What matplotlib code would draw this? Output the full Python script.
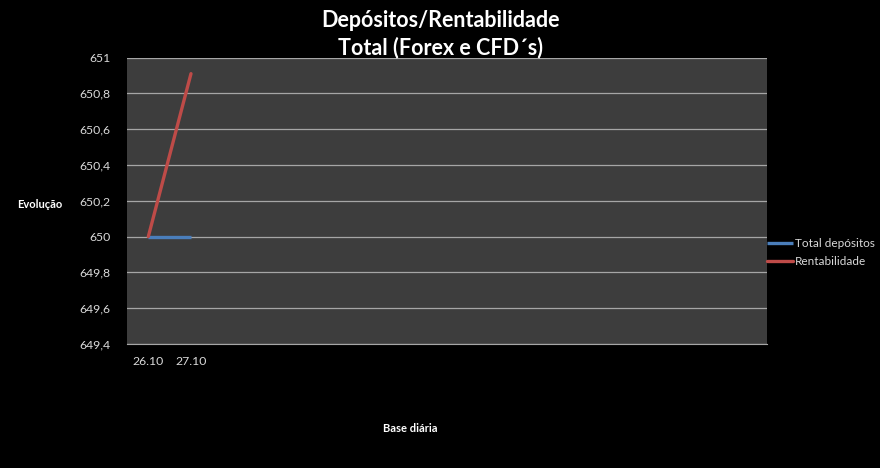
import matplotlib.pyplot as plt
from matplotlib.ticker import FuncFormatter, MultipleLocator

# chart data
categories = ['26.10', '27.10'] + [''] * 13
total_depositos = [650, 650]
rentabilidade = [650, 650.91]

plt.rcParams['font.family'] = ['Lato', 'DejaVu Sans']

fig = plt.figure(figsize=(8.8, 4.68), dpi=100, facecolor='black')
ax = fig.add_axes([0.1443, 0.265, 0.7273, 0.612])
ax.set_facecolor('#3d3d3d')

x = list(range(len(categories)))
ax.plot(x[:len(total_depositos)], total_depositos, color='#4a7ebb', lw=2.4,
        label='Total depósitos', solid_capstyle='butt')
ax.plot(x[:len(rentabilidade)], rentabilidade, color='#be4b48', lw=2.4,
        label='Rentabilidade', solid_capstyle='round')

ax.set_xlim(-0.5, len(categories) - 0.5)
ax.set_ylim(649.4, 651)
ax.yaxis.set_major_locator(MultipleLocator(0.2))
ax.yaxis.set_major_formatter(FuncFormatter(lambda v, p: ('%g' % round(v, 2)).replace('.', ',')))
ax.set_xticks(x)
ax.set_xticklabels(categories)
ax.grid(axis='y', color='#a6a6a6', lw=0.9)
ax.set_axisbelow(True)
ax.tick_params(length=0, colors='#d9d9d9', labelsize=8.8)
ax.tick_params(axis='y', pad=12)
ax.tick_params(axis='x', pad=9)
for s in ax.spines.values():
    s.set_visible(False)
ax.spines['bottom'].set_visible(True)
ax.spines['bottom'].set_color('#a6a6a6')

fig.text(0.5, 0.978, 'Depósitos/Rentabilidade\nTotal (Forex e CFD´s)', color='white',
         fontsize=15.5, fontweight='bold', ha='center', va='top', linespacing=1.3)
fig.text(0.045, 0.562, 'Evolução', color='white', fontsize=8, fontweight='bold',
         ha='center', va='center')
fig.text(0.466, 0.085, 'Base diária', color='white', fontsize=8, fontweight='bold',
         ha='center', va='center')

leg = ax.legend(loc='center left', bbox_to_anchor=(1.0, 0.318), frameon=False,
                fontsize=8.5, labelcolor='#d9d9d9', handlelength=2.2,
                handletextpad=0.2, borderaxespad=0, borderpad=0, labelspacing=0.6)

fig.savefig('out.png', dpi=100, facecolor='black')
